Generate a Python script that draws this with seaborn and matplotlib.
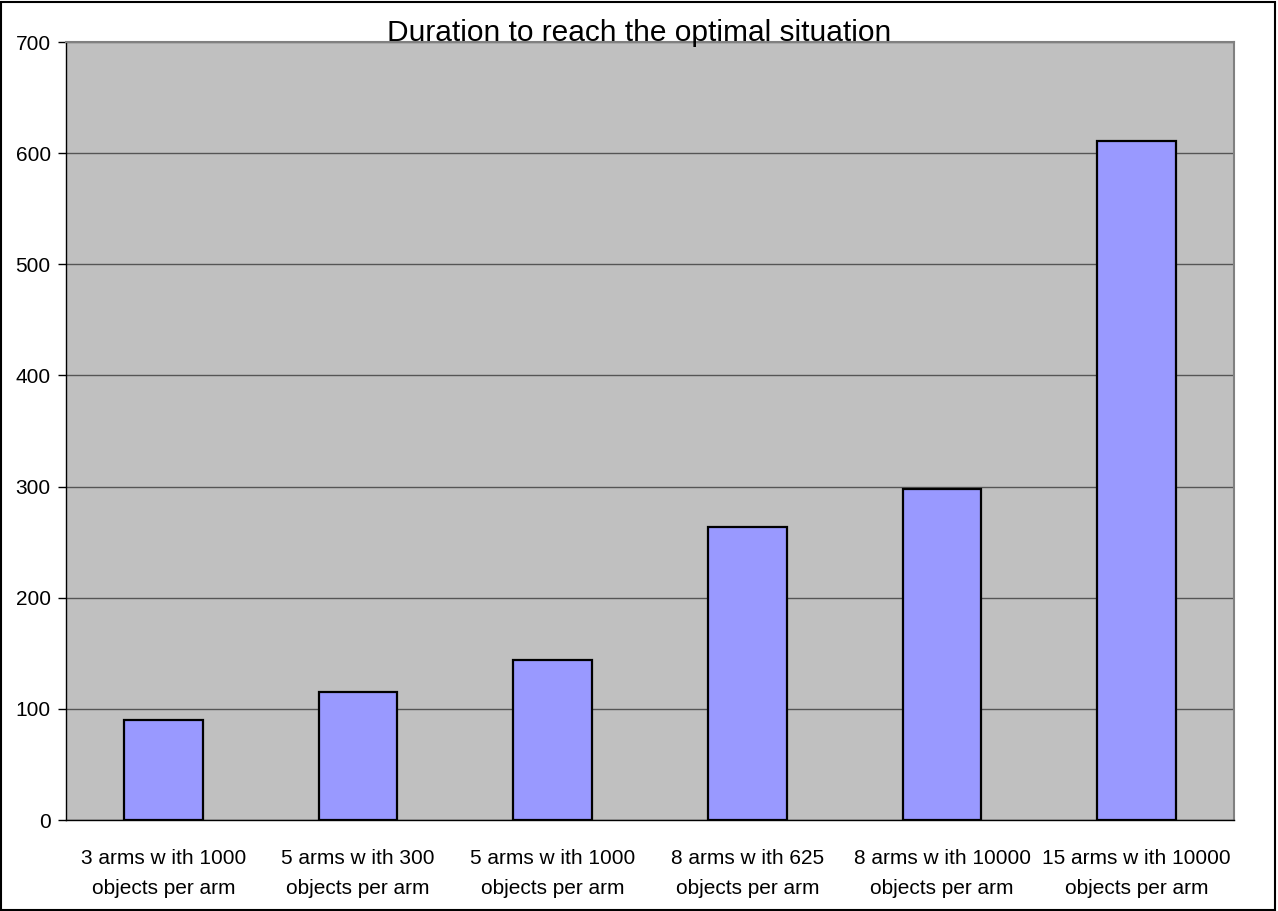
import matplotlib
matplotlib.use("Agg")
import matplotlib.pyplot as plt
import seaborn as sns
import pandas as pd
from matplotlib.patches import Rectangle

categories = [
    "3 arms w ith 1000\nobjects per arm",
    "5 arms w ith 300\nobjects per arm",
    "5 arms w ith 1000\nobjects per arm",
    "8 arms w ith 625\nobjects per arm",
    "8 arms w ith 10000\nobjects per arm",
    "15 arms w ith 10000\nobjects per arm",
]
durations = [90, 115, 144, 264, 298, 611]
y_ticks = [0, 100, 200, 300, 400, 500, 600, 700]

sns.set_style("white")
plt.rcParams['font.family'] = ['Liberation Sans', 'DejaVu Sans']
plt.rcParams['text.color'] = 'black'
plt.rcParams['xtick.color'] = 'black'
plt.rcParams['ytick.color'] = 'black'

df = pd.DataFrame({"setup": categories, "duration": durations})

fig = plt.figure(figsize=(12.78, 9.11), dpi=100)
ax = fig.add_axes([66 / 1278, 1 - 820 / 911, (1234 - 66) / 1278, (820 - 42) / 911])
ax.set_facecolor("#C0C0C0")

sns.barplot(data=df, x="setup", y="duration", color="#9999FF", saturation=1,
            width=0.405, edgecolor="black", linewidth=1.6, ax=ax, zorder=3)

# gridlines
ax.set_ylim(0, 700)
ax.set_yticks(y_ticks)
ax.yaxis.grid(True, color="#555555", linewidth=1, zorder=1)
ax.set_axisbelow(True)

# x ticks between categories
ax.set_xlim(-0.5, len(categories) - 0.5)
ax.set_xticks([i - 0.5 for i in range(len(categories) + 1)], minor=True)
ax.tick_params(axis="x", which="major", length=0, labelsize=15, pad=21)
ax.tick_params(axis="x", which="minor", length=6, width=1, color="black")
ax.tick_params(axis="y", which="major", length=6, width=1, color="black",
               labelsize=15, left=True, direction="out", pad=5)
for lbl in ax.get_xticklabels():
    lbl.set_linespacing(1.7)
ax.set_xlabel("")
ax.set_ylabel("")

for side in ["left", "bottom"]:
    ax.spines[side].set_color("black")
    ax.spines[side].set_linewidth(1)
for side in ["top", "right"]:
    ax.spines[side].set_visible(True)
    ax.spines[side].set_color("#808080")
    ax.spines[side].set_linewidth(1.5)

fig.text(0.5, 1 - 33 / 911, "Duration to reach the optimal situation",
         ha="center", va="center", fontsize=21.5)

# outer chart border
fig.patches.append(Rectangle((0.001, 0.001), 0.997, 0.997, transform=fig.transFigure,
                             fill=False, edgecolor="black", linewidth=1.5))

fig.savefig("out.png", dpi=100)
